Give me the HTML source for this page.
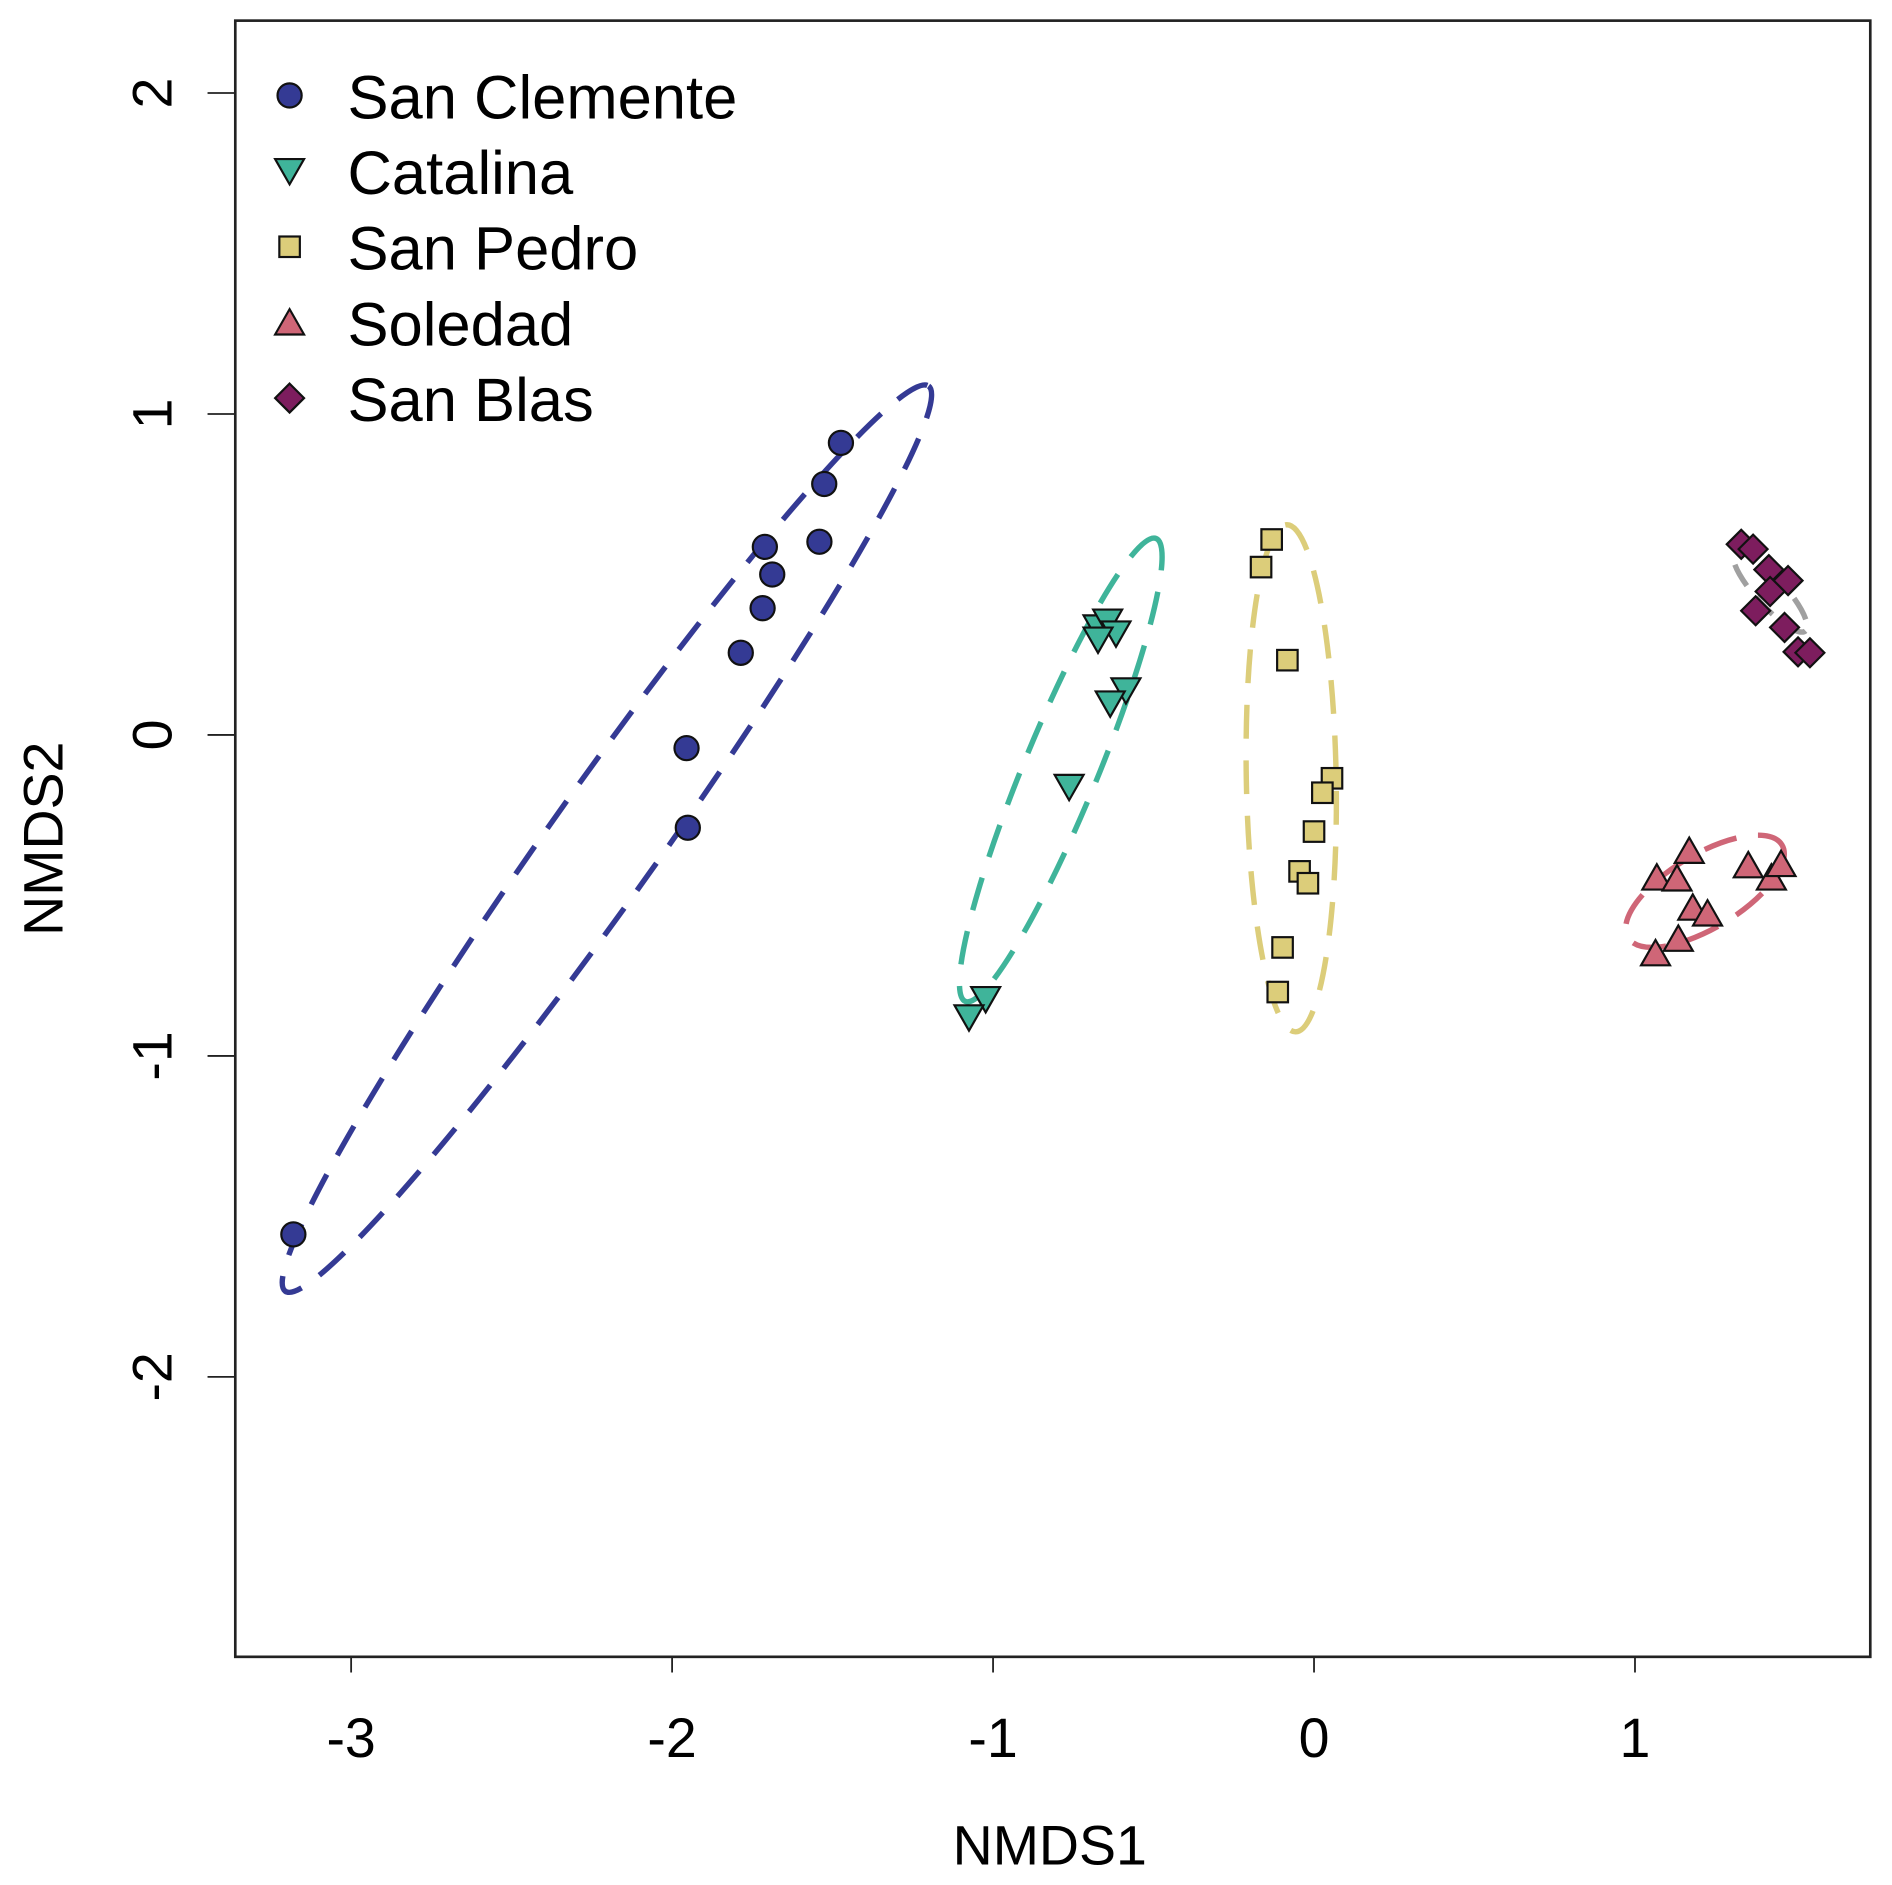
<!DOCTYPE html>
<html><head><meta charset="utf-8"><style>
html,body{margin:0;padding:0;background:#fff;}
svg{display:block;}
text{font-family:"Liberation Sans",Arial,sans-serif;fill:#000;}
</style></head><body>
<svg id="chart" width="1892" height="1885" viewBox="0 0 1568 1562" xmlns="http://www.w3.org/2000/svg">
<rect x="0" y="0" width="1568" height="1562" fill="#fff"/>
<g id="ellipses"></g>
<g id="points"></g>
<rect x="195" y="17" width="1355" height="1356" fill="none" stroke="#222" stroke-width="2.2"/>
<g id="axes"></g>
<text x="870" y="1545" font-size="46" text-anchor="middle">NMDS1</text>
<text transform="translate(52,695) rotate(-90)" font-size="46" text-anchor="middle">NMDS2</text>
<g id="legend"></g>
</svg>
<script>
const xTicks = [-3, -2, -1, 0, 1];
const yTicks = [2, 1, 0, -1, -2];
const groupNames = ["San Clemente", "Catalina", "San Pedro", "Soledad", "San Blas"];
const sanClementeX = [-1.474, -1.526, -1.541, -1.711, -1.688, -1.718, -1.786, -1.955, -1.951, -3.180];
const sanClementeY = [0.910, 0.782, 0.602, 0.586, 0.500, 0.395, 0.256, -0.041, -0.289, -1.556];
const catalinaX = [-0.673, -0.643, -0.617, -0.673, -0.586, -0.635, -0.763, -1.023, -1.075];
const catalinaY = [0.335, 0.353, 0.316, 0.297, 0.139, 0.098, -0.162, -0.823, -0.880];
const sanPedroX = [-0.132, -0.165, -0.083, 0.056, 0.026, 0.000, -0.045, -0.019, -0.098, -0.113];
const sanPedroY = [0.609, 0.523, 0.233, -0.135, -0.180, -0.301, -0.425, -0.462, -0.662, -0.801];
const soledadX = [1.068, 1.131, 1.169, 1.180, 1.226, 1.135, 1.064, 1.353, 1.425, 1.455];
const soledadY = [-0.444, -0.447, -0.361, -0.538, -0.556, -0.635, -0.680, -0.406, -0.444, -0.402];
const sanBlasX = [1.331, 1.368, 1.417, 1.477, 1.421, 1.376, 1.466, 1.508, 1.545];
const sanBlasY = [0.594, 0.579, 0.515, 0.481, 0.447, 0.387, 0.335, 0.259, 0.256];
// ellipse: center x, center y, half-length, half-width (data units), angle (deg, screen)
const ellipseCX = [-2.203, -0.789, -0.071, 1.218, 1.421];
const ellipseCY = [-0.323, -0.109, -0.135, -0.487, 0.447];
const ellipseA = [1.73, 0.78, 0.79, 0.28, 0.165];
const ellipseB = [0.17, 0.115, 0.14, 0.115, 0.045];
const ellipseAngle = [-54.6, -67.6, -91, -31, 48];

const NS = "http://www.w3.org/2000/svg";
const X0 = 1089, Y0 = 609, U = 266;
const sx = v => X0 + v * U;
const sy = v => Y0 - v * U;
const fills = ["#343a94", "#3fb49a", "#dccd7a", "#cf6677", "#7d1d5e"];
const ecols = ["#343a94", "#3fb49a", "#dccd7a", "#cf6677", "#a0a0a0"];
function mk(tag, attrs, parent) { const e = document.createElementNS(NS, tag); for (const k in attrs) e.setAttribute(k, attrs[k]); parent.appendChild(e); return e; }

const axes = document.getElementById("axes");
xTicks.forEach(t => {
  const l = mk("line", {x1: sx(t), x2: sx(t), y1: 1373, y2: 1386, stroke: "#222", "stroke-width": 1.5}, axes);
  
  
  const tx = mk("text", {x: sx(t), y: 1456, "font-size": 46, "text-anchor": "middle"}, axes);
  tx.textContent = String(t);
  
  
});
yTicks.forEach(t => {
  const l = mk("line", {x1: 195, x2: 172, y1: sy(t), y2: sy(t), stroke: "#222", "stroke-width": 1.5}, axes);
  
  
  const tx = mk("text", {transform: `translate(142,${sy(t)}) rotate(-90)`, "font-size": 46, "text-anchor": "middle"}, axes);
  tx.textContent = String(t);
  
  
});

const eg = document.getElementById("ellipses");
for (let i = 0; i < ellipseCX.length; i++) {
  const el = mk("ellipse", {cx: 0, cy: 0, rx: ellipseA[i] * U, ry: ellipseB[i] * U,
    transform: `translate(${sx(ellipseCX[i])},${sy(ellipseCY[i])}) rotate(${ellipseAngle[i]})`,
    fill: "none", stroke: ecols[i], "stroke-width": 4.5, "stroke-dasharray": i === 4 ? "20 12" : "28 18"}, eg);
  
  
}

function marker(shape, cx, cy, fill, parent) {
  let e;
  if (shape === 0) e = mk("circle", {cx, cy, r: 10}, parent);
  else if (shape === 1) e = mk("polygon", {points: `${cx-12},${cy-10} ${cx+12},${cy-10} ${cx},${cy+11}`}, parent);
  else if (shape === 2) e = mk("rect", {x: cx-8.5, y: cy-8.5, width: 17, height: 17}, parent);
  else if (shape === 3) e = mk("polygon", {points: `${cx-12},${cy+10} ${cx+12},${cy+10} ${cx},${cy-11}`}, parent);
  else e = mk("polygon", {points: `${cx},${cy-12} ${cx+12},${cy} ${cx},${cy+12} ${cx-12},${cy}`}, parent);
  e.setAttribute("fill", fill); e.setAttribute("stroke", "#111"); e.setAttribute("stroke-width", 1.8);
  return e;
}
const pg = document.getElementById("points");
const allX = [sanClementeX, catalinaX, sanPedroX, soledadX, sanBlasX];
const allY = [sanClementeY, catalinaY, sanPedroY, soledadY, sanBlasY];
allX.forEach((xs, g) => xs.forEach((v, j) => {
  const m = marker(g, sx(v), sy(allY[g][j]), fills[g], pg);
  
  
}));

const lg = document.getElementById("legend");
groupNames.forEach((n, i) => {
  const y = 79 + i * 62.7;
  const m = marker(i, 240, y, fills[i], lg);
  
  
  const t = mk("text", {x: 288, y: y + 19, "font-size": 51}, lg);
  t.textContent = n;
  
  
});
</script>
</body></html>
